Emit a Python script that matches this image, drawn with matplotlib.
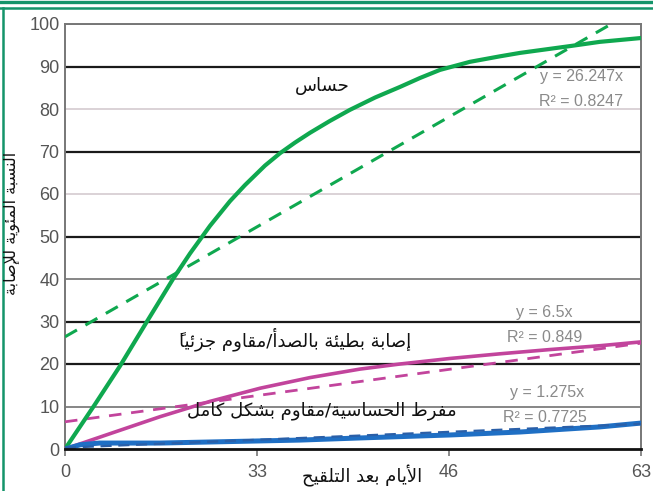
import matplotlib
matplotlib.use("Agg")
import matplotlib.pyplot as plt
from matplotlib.lines import Line2D

# ---------------- data ----------------
x_tick_labels = ["0", "33", "46", "63"]

sens_x = [0, 0.156, 0.286, 0.427, 0.5625, 0.651, 0.755, 0.859, 0.9375, 1.042, 1.12, 1.198, 1.276,
          1.380, 1.484, 1.615, 1.745, 1.849, 1.953, 2.109, 2.266, 2.37, 2.500, 2.63, 2.786, 3.0]
sens_y = [0, 10.5, 19.5, 30, 40, 46.0, 52.5, 58.3, 62.1, 66.7, 69.6, 72.1, 74.4,
          77.2, 79.8, 82.7, 85.2, 87.3, 89.2, 91.1, 92.4, 93.2, 94.0, 94.8, 95.8, 96.7]
sens_trend_x = [0, 3]
sens_trend_y = [26.4, 104.0]

slow_x = [0, 0.234, 0.495, 0.755, 1.016, 1.276, 1.536, 1.745, 2.005, 2.266, 2.526, 2.786, 3.0]
slow_y = [0, 3.6, 7.6, 11.2, 14.3, 16.8, 18.8, 20.0, 21.3, 22.4, 23.4, 24.3, 25.2]
slow_trend_x = [0, 3]
slow_trend_y = [6.4, 24.9]

res_x = [0, 0.08, 0.18, 0.495, 0.703, 1.224, 1.536, 2.005, 2.37, 2.786, 3.0]
res_y = [0, 1.0, 1.4, 1.4, 1.6, 2.1, 2.6, 3.3, 4.0, 5.2, 6.1]
res_trend_x = [0, 3]
res_trend_y = [0.3, 5.9]

y_ticks = [0, 10, 20, 30, 40, 50, 60, 70, 80, 90, 100]

label_sens = "حساس"
label_slow = "إصابة بطيئة بالصدأ/مقاوم جزئياً"
label_res = "مفرط الحساسية/مقاوم بشكل كامل"
y_title = "النسبة المئوية للإصابة"
x_title = "الأيام بعد التلقيح"

eq_sens = ["y = 26.247x", "R² = 0.8247"]
eq_slow = ["y = 6.5x", "R² = 0.849"]
eq_res = ["y = 1.275x", "R² = 0.7725"]

# ---------------- minimal Arabic shaping ----------------
FORMS = {
    '\u0627': ('\uFE8D', '\uFE8E', None, None),
    '\u0623': ('\uFE83', '\uFE84', None, None),
    '\u0625': ('\uFE87', '\uFE88', None, None),
    '\u0628': ('\uFE8F', '\uFE90', '\uFE91', '\uFE92'),
    '\u0629': ('\uFE93', '\uFE94', None, None),
    '\u062A': ('\uFE95', '\uFE96', '\uFE97', '\uFE98'),
    '\u062C': ('\uFE9D', '\uFE9E', '\uFE9F', '\uFEA0'),
    '\u062D': ('\uFEA1', '\uFEA2', '\uFEA3', '\uFEA4'),
    '\u062F': ('\uFEA9', '\uFEAA', None, None),
    '\u0631': ('\uFEAD', '\uFEAE', None, None),
    '\u0632': ('\uFEAF', '\uFEB0', None, None),
    '\u0633': ('\uFEB1', '\uFEB2', '\uFEB3', '\uFEB4'),
    '\u0634': ('\uFEB5', '\uFEB6', '\uFEB7', '\uFEB8'),
    '\u0635': ('\uFEB9', '\uFEBA', '\uFEBB', '\uFEBC'),
    '\u0637': ('\uFEC1', '\uFEC2', '\uFEC3', '\uFEC4'),
    '\u0639': ('\uFEC9', '\uFECA', '\uFECB', '\uFECC'),
    '\u0641': ('\uFED1', '\uFED2', '\uFED3', '\uFED4'),
    '\u0642': ('\uFED5', '\uFED6', '\uFED7', '\uFED8'),
    '\u0643': ('\uFED9', '\uFEDA', '\uFEDB', '\uFEDC'),
    '\u0644': ('\uFEDD', '\uFEDE', '\uFEDF', '\uFEE0'),
    '\u0645': ('\uFEE1', '\uFEE2', '\uFEE3', '\uFEE4'),
    '\u0646': ('\uFEE5', '\uFEE6', '\uFEE7', '\uFEE8'),
    '\u0648': ('\uFEED', '\uFEEE', None, None),
    '\u064A': ('\uFEF1', '\uFEF2', '\uFEF3', '\uFEF4'),
    '\u0626': ('\uFE89', '\uFE8A', '\uFE8B', '\uFE8C'),
    'LA\u0627': ('\uFEFB', '\uFEFC', None, None),
    'LA\u0623': ('\uFEF7', '\uFEF8', None, None),
    'LA\u0625': ('\uFEF9', '\uFEFA', None, None),
}


def is_mark(c):
    return '\u064B' <= c <= '\u065F' or c == '\u0670'


def shape(text):
    clusters = []  # [key, marks]
    i = 0
    while i < len(text):
        c = text[i]
        if is_mark(c) and clusters:
            clusters[-1][1] += c
            i += 1
            continue
        if c == '\u0644' and i + 1 < len(text) and text[i + 1] in '\u0627\u0623\u0625':
            clusters.append(['LA' + text[i + 1], ''])
            i += 2
            continue
        clusters.append([c, ''])
        i += 1
    out = []
    n = len(clusters)
    for k, (key, marks) in enumerate(clusters):
        if key not in FORMS:
            out.append(marks + key)
            continue
        f = FORMS[key]
        prev_j = k > 0 and clusters[k - 1][0] in FORMS and FORMS[clusters[k - 1][0]][2] is not None
        next_j = (f[2] is not None) and k + 1 < n and clusters[k + 1][0] in FORMS
        if prev_j and next_j:
            g = f[3]
        elif prev_j:
            g = f[1]
        elif next_j:
            g = f[2]
        else:
            g = f[0]
        # zero-advance mark is drawn to the right of the pen: put it before its base
        out.append(marks + g)
    return ''.join(reversed(out))


# ---------------- figure ----------------
W, H = 653, 491
fig = plt.figure(figsize=(W / 100, H / 100), dpi=100, facecolor="white")


def fx(px):
    return px / W


def fy(py):
    return 1 - py / H


ax = fig.add_axes([fx(65), fy(449), fx(641) - fx(65), fy(24) - fy(449)])
ax.set_xlim(0, 3)
ax.set_ylim(0, 100)

# gridlines
grid_style = {90: ("#1a1a1a", 1.6), 70: ("#1a1a1a", 1.6), 50: ("#1a1a1a", 1.6),
              30: ("#1a1a1a", 1.6), 20: ("#1a1a1a", 1.6),
              80: ("#d8cfd3", 1.3), 60: ("#d8cfd3", 1.3),
              40: ("#7d7d7d", 1.3), 10: ("#7d7d7d", 1.3), 100: ("#7d7d7d", 1.3)}
for yv in y_ticks:
    if yv in grid_style:
        col, lw = grid_style[yv]
        ax.axhline(yv, color=col, lw=lw, zorder=1)

green = "#0fa84f"
magenta = "#c2449c"
blue = "#1f6fc4"

ax.plot(sens_trend_x, sens_trend_y, color=green, lw=2.2, dashes=(4.5, 3.2), zorder=3)
ax.plot(sens_x, sens_y, color=green, lw=3.0, zorder=4, solid_joinstyle="round")
ax.plot(slow_trend_x, slow_trend_y, color=magenta, lw=2.0, dashes=(4.5, 3.5), zorder=3)
ax.plot(slow_x, slow_y, color=magenta, lw=2.6, zorder=4, solid_joinstyle="round")
ax.plot(res_x, res_y, color=blue, lw=3.6, zorder=4)
ax.plot(res_trend_x, res_trend_y, color="#2a5fa8", lw=1.6, dashes=(5, 3), zorder=4)

# spines
for s in ("left", "top", "right"):
    ax.spines[s].set_color("#777777")
    ax.spines[s].set_linewidth(1.4)
ax.spines["bottom"].set_color("#111111")
ax.spines["bottom"].set_linewidth(2.0)
ax.spines["bottom"].set_zorder(5)

ax.set_yticks(y_ticks)
ax.set_xticks([0, 1, 2, 3])
ax.set_xticklabels(x_tick_labels)
ax.tick_params(axis="y", length=0, pad=4, labelsize=13, labelcolor="#555555")
ax.tick_params(axis="x", length=5, width=1.2, color="#777777", pad=6, labelsize=13, labelcolor="#555555")
for lab in ax.get_xticklabels() + ax.get_yticklabels():
    lab.set_family(["Liberation Sans", "DejaVu Sans"])

# curve labels
txt_kw = dict(family="DejaVu Sans", color="#111111", ha="center", va="center")
fig.text(fx(322), fy(86), shape(label_sens), fontsize=13, **txt_kw)
fig.text(fx(295), fy(339), shape(label_slow), fontsize=13, **txt_kw)
fig.text(fx(322), fy(411), shape(label_res), fontsize=13, **txt_kw)

# axis titles
fig.text(fx(12), fy(223), shape(y_title), fontsize=11.5, rotation=90, **txt_kw)
fig.text(fx(362), fy(476), shape(x_title), fontsize=13, **txt_kw)

# equations
eq_kw = dict(family=["Liberation Sans", "DejaVu Sans"], color="#8a8a8a", ha="center", va="center", fontsize=11.5)
fig.text(fx(581), fy(76), eq_sens[0], **eq_kw)
fig.text(fx(581), fy(102), eq_sens[1], **eq_kw)
fig.text(fx(544), fy(312), eq_slow[0], **eq_kw)
fig.text(fx(545), fy(337), eq_slow[1], **eq_kw)
fig.text(fx(547), fy(393), eq_res[0], **eq_kw)
fig.text(fx(545), fy(417), eq_res[1], **eq_kw)

# green frame
frame_c = "#14946a"
fig.add_artist(Line2D([0, 1], [fy(1.5), fy(1.5)], color=frame_c, lw=2.4, transform=fig.transFigure))
fig.add_artist(Line2D([0, 1], [fy(7.5), fy(7.5)], color=frame_c, lw=1.8, transform=fig.transFigure))
fig.add_artist(Line2D([fx(2.5), fx(2.5)], [fy(7.5), 0], color=frame_c, lw=1.8, transform=fig.transFigure))

fig.savefig("out.png", dpi=100, facecolor="white")
